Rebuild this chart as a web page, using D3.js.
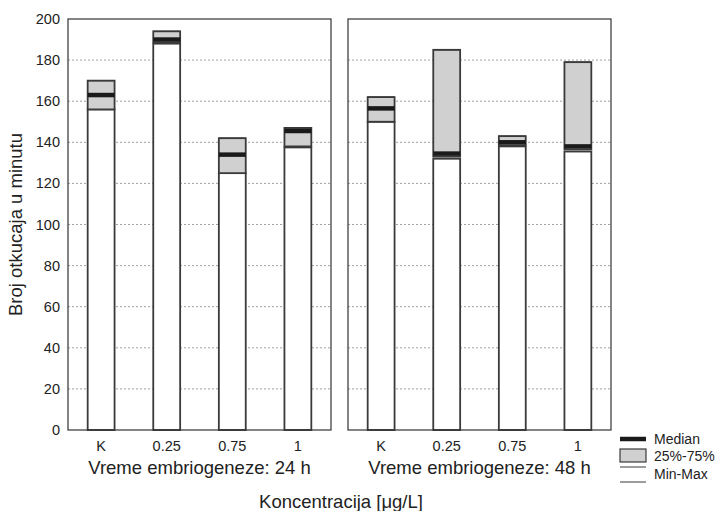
<!DOCTYPE html>
<html>
<head>
	<title>Broj otkucaja u minutu</title>
	<script src="https://d3js.org/d3.v7.min.js"></script>
	<style>
		body { margin: 0; background: #fff; }
		text { font-family: "Liberation Sans", Arial, sans-serif; fill: #222; }
		.grid line { stroke: #888; stroke-dasharray: 2,2; stroke-width: 0.8; }
	</style>
</head>
<body>
	<div id="plot"></div>
	<script type="text/javascript">
		// data
		const categories = ["K", "0.25", "0.75", "1"];
		const panelTitles = ["Vreme embriogeneze: 24 h", "Vreme embriogeneze: 48 h"];
		const yTicks = [0, 20, 40, 60, 80, 100, 120, 140, 160, 180, 200];

		// 24 h
		const min24 = [156, 188, 125, 137.5];
		const q1_24 = [156, 188.5, 125, 138];
		const med24 = [163, 190, 134, 145.5];
		const q3_24 = [170, 194, 142, 147];
		const max24 = [170, 194, 142, 147];

		// 48 h
		const min48 = [150, 132, 138, 135.5];
		const q1_48 = [150, 133, 138.5, 136.5];
		const med48 = [156.5, 134.5, 140, 138];
		const q3_48 = [162, 185, 143, 179];
		const max48 = [162, 185, 143, 179];

		const panels = [
			{ title: panelTitles[0], min: min24, q1: q1_24, med: med24, q3: q3_24, max: max24 },
			{ title: panelTitles[1], min: min48, q1: q1_48, med: med48, q3: q3_48, max: max48 }
		];

		var w = 719, h = 511;
		var plotTop = 19, plotBottom = 430;
		var panelX = [68, 348], panelW = 263;

		var svg = d3.select("#plot").append("svg")
			.attr("width", w).attr("height", h);

		var y = d3.scaleLinear().domain([0, 200]).range([plotBottom, plotTop]);

		panels.forEach(function(p, i) {
			var x0 = panelX[i];
			var x = d3.scaleBand()
				.domain(categories)
				.range([x0, x0 + panelW])
				.paddingInner(0.59)
				.paddingOuter(0.3);

			var g = svg.append("g");

			// gridlines
			g.append("g").attr("class", "grid")
				.selectAll("line")
				.data(yTicks.filter(function(t) { return t > 0 && t < 200; }))
				.enter().append("line")
				.attr("x1", x0).attr("x2", x0 + panelW)
				.attr("y1", function(d) { return y(d); })
				.attr("y2", function(d) { return y(d); });

			var boxes = g.selectAll(".box")
				.data(categories)
				.enter().append("g").attr("class", "box");

			// white bar up to the minimum
			boxes.append("rect")
				.attr("x", function(d) { return x(d); })
				.attr("width", x.bandwidth())
				.attr("y", function(d, j) { return y(p.min[j]); })
				.attr("height", function(d, j) { return y(0) - y(p.min[j]); })
				.attr("fill", "#fff").attr("stroke", "#3a3a3a").attr("stroke-width", 1.8);

			// 25%-75% box
			boxes.append("rect")
				.attr("x", function(d) { return x(d); })
				.attr("width", x.bandwidth())
				.attr("y", function(d, j) { return y(p.q3[j]); })
				.attr("height", function(d, j) { return y(p.q1[j]) - y(p.q3[j]); })
				.attr("fill", "#d0d0d0").attr("stroke", "#3a3a3a").attr("stroke-width", 1.8);

			// max line
			boxes.append("line")
				.attr("x1", function(d) { return x(d); })
				.attr("x2", function(d) { return x(d) + x.bandwidth(); })
				.attr("y1", function(d, j) { return y(p.max[j]); })
				.attr("y2", function(d, j) { return y(p.max[j]); })
				.attr("stroke", "#3a3a3a").attr("stroke-width", 1.2);

			// median
			boxes.append("line")
				.attr("x1", function(d) { return x(d); })
				.attr("x2", function(d) { return x(d) + x.bandwidth(); })
				.attr("y1", function(d, j) { return y(p.med[j]); })
				.attr("y2", function(d, j) { return y(p.med[j]); })
				.attr("stroke", "#1a1a1a").attr("stroke-width", 4.5);

			// frame
			g.append("rect")
				.attr("x", x0).attr("y", plotTop)
				.attr("width", panelW).attr("height", plotBottom - plotTop)
				.attr("fill", "none").attr("stroke", "#333").attr("stroke-width", 1.2);

			// category labels
			g.selectAll(".cat")
				.data(categories)
				.enter().append("text")
				.attr("x", function(d) { return x(d) + x.bandwidth() / 2; })
				.attr("y", 451)
				.attr("text-anchor", "middle")
				.attr("font-size", 14.5)
				.text(function(d) { return d; });

			g.append("text")
				.attr("x", x0 + panelW / 2).attr("y", 474)
				.attr("text-anchor", "middle")
				.attr("font-size", 18.5)
				.text(p.title);
		});

		// y tick labels on the left panel
		svg.append("g").selectAll("text")
			.data(yTicks)
			.enter().append("text")
			.attr("x", 60)
			.attr("y", function(d) { return y(d) + 5; })
			.attr("text-anchor", "end")
			.attr("font-size", 14.5)
			.text(function(d) { return d; });

		svg.append("text")
			.attr("transform", "translate(22," + ((plotTop + plotBottom) / 2) + ") rotate(-90)")
			.attr("text-anchor", "middle")
			.attr("font-size", 18.5)
			.text("Broj otkucaja u minutu");

		svg.append("text")
			.attr("x", 341).attr("y", 508)
			.attr("text-anchor", "middle")
			.attr("font-size", 18.5)
			.text("Koncentracija [\u03BCg/L]");

		// legend
		var lg = svg.append("g");
		lg.append("line").attr("x1", 620).attr("x2", 646).attr("y1", 439).attr("y2", 439)
			.attr("stroke", "#1a1a1a").attr("stroke-width", 4.5);
		lg.append("text").attr("x", 654).attr("y", 444).attr("font-size", 14).text("Median");
		lg.append("rect").attr("x", 620).attr("y", 449).attr("width", 26).attr("height", 13)
			.attr("fill", "#d0d0d0").attr("stroke", "#3a3a3a").attr("stroke-width", 1.2);
		lg.append("line").attr("x1", 620).attr("x2", 646).attr("y1", 467).attr("y2", 467)
			.attr("stroke", "#3a3a3a").attr("stroke-width", 1);
		lg.append("text").attr("x", 654).attr("y", 461).attr("font-size", 14).text("25%-75%");
		lg.append("line").attr("x1", 620).attr("x2", 646).attr("y1", 482).attr("y2", 482)
			.attr("stroke", "#3a3a3a").attr("stroke-width", 1);
		lg.append("text").attr("x", 654).attr("y", 479).attr("font-size", 14).text("Min-Max");
	</script>
</body>
</html>
